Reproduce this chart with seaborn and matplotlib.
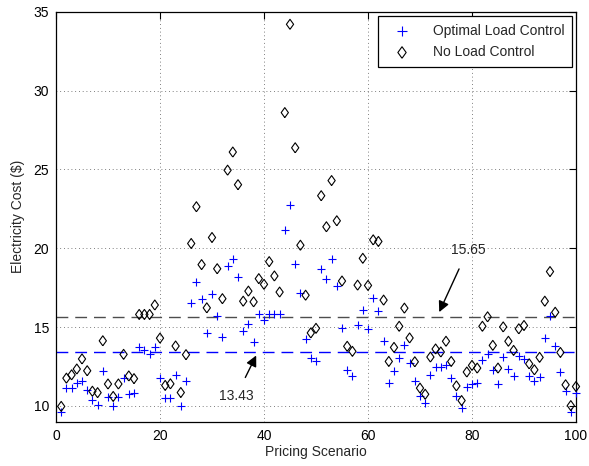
import numpy as np
import pandas as pd
import matplotlib
matplotlib.use("Agg")
import matplotlib.pyplot as plt
import seaborn as sns

scenario = list(range(1, 101))

no_control = [
    9.97, 11.76, 11.97, 12.34, 12.98, 12.23, 10.93, 10.84, 14.13, 11.39,
    10.60, 11.39, 13.27, 11.90, 11.73, 15.80, 15.80, 15.80, 16.40, 14.30,
    11.30, 11.40, 13.80, 10.85, 13.25, 20.30, 22.63, 18.96, 16.22, 20.68,
    18.70, 16.80, 24.95, 26.10, 24.03, 16.64, 17.28, 16.60, 18.07, 17.71,
    19.15, 18.24, 17.22, 28.60, 34.20, 26.37, 20.19, 17.02, 14.63, 14.92,
    23.33, 21.36, 24.29, 21.74, 17.92, 13.78, 13.46, 17.66, 19.36, 17.64,
    20.53, 20.43, 16.71, 12.82, 13.71, 15.05, 16.20, 14.31, 12.80, 11.13,
    10.74, 13.10, 13.61, 13.42, 14.10, 12.82, 11.27, 10.34, 12.15, 12.57,
    12.40, 15.05, 15.65, 13.84, 12.40, 15.01, 14.10, 13.52, 14.89, 15.10,
    12.67, 12.29, 13.08, 16.64, 18.52, 15.94, 13.39, 11.34, 10.02, 11.23,
]

optimal = [
    9.62, 11.15, 11.15, 11.45, 11.58, 11.04, 10.36, 10.04, 12.21, 10.58,
    10.01, 10.58, 11.76, 10.74, 10.80, 13.74, 13.52, 13.30, 13.74, 11.76,
    10.49, 10.49, 11.93, 10.00, 11.60, 16.54, 17.85, 16.80, 14.63, 17.11,
    15.73, 14.40, 18.87, 19.34, 18.17, 14.75, 15.22, 14.06, 15.86, 15.48,
    15.84, 15.84, 15.80, 21.15, 22.74, 18.98, 17.13, 14.27, 13.04, 12.87,
    18.66, 18.07, 19.34, 17.60, 14.95, 12.29, 11.87, 15.16, 16.07, 14.90,
    16.86, 16.00, 14.10, 11.48, 12.23, 13.04, 13.84, 12.70, 11.60, 10.60,
    10.21, 11.93, 12.44, 12.50, 12.61, 11.80, 10.64, 9.85, 11.17, 11.40,
    11.45, 12.93, 13.29, 12.29, 11.40, 13.10, 12.34, 11.91, 13.18, 12.97,
    11.87, 11.61, 11.83, 14.31, 15.69, 13.82, 12.15, 10.97, 9.64, 10.85,
]

mean_no_control = 15.65
mean_optimal = 13.43

series_names = ["Optimal Load Control", "No Load Control"]
x_ticks = [0, 20, 40, 60, 80, 100]
y_ticks = [10, 15, 20, 25, 30, 35]

sns.set_theme(style="white")
plt.rcParams["font.family"] = ["Liberation Sans", "DejaVu Sans"]
plt.rcParams["font.size"] = 10

fig = plt.figure(figsize=(5.89, 4.66), dpi=100)
ax = fig.add_axes([56 / 589, 1 - 421.7 / 466, (576 - 56) / 589, (421.7 - 11.7) / 466])

df_opt = pd.DataFrame({"x": scenario, "y": optimal})
df_no = pd.DataFrame({"x": scenario, "y": no_control})

diamond = [(0, -1), (0.72, 0), (0, 1), (-0.72, 0), (0, -1)]

sns.scatterplot(data=df_opt, x="x", y="y", marker="+", s=34, color="#0000ff",
                linewidth=0.8, ax=ax, label=series_names[0], clip_on=False, zorder=3)
sns.scatterplot(data=df_no, x="x", y="y", marker=diamond, s=52, facecolor="none",
                edgecolor="black", linewidth=0.8, ax=ax, label=series_names[1],
                clip_on=False, zorder=3)

ax.axhline(mean_no_control, color="#4d4d4d", lw=1.0, dashes=(8.5, 5), zorder=2)
ax.axhline(mean_optimal, color="#0000ff", lw=1.0, dashes=(8.5, 5), zorder=2)

ax.annotate(f"{mean_no_control:.2f}", xy=(73.7, 15.95), xytext=(79.2, 19.9),
            ha="center", va="center", fontsize=10,
            arrowprops=dict(arrowstyle="-|>", color="black", lw=1.0,
                            shrinkA=7, shrinkB=0, mutation_scale=16))
ax.annotate(f"{mean_optimal:.2f}", xy=(38.5, 13.2), xytext=(34.6, 10.6),
            ha="center", va="center", fontsize=10,
            arrowprops=dict(arrowstyle="-|>", color="black", lw=1.0,
                            shrinkA=7, shrinkB=0, mutation_scale=16))

ax.set_xlim(0, 100)
ax.set_ylim(9, 35)
ax.set_xticks(x_ticks)
ax.set_yticks(y_ticks)
ax.set_xlabel("Pricing Scenario", fontsize=10, labelpad=2)
ax.set_ylabel("Electricity Cost ($)", fontsize=10, labelpad=6)
ax.grid(True, linestyle=(0, (1, 3.5)), color="#555555", lw=0.6)
ax.tick_params(direction="in", length=5, width=0.8, top=True, right=True,
               labelsize=10, colors="black", pad=5)
for sp in ax.spines.values():
    sp.set_visible(True)
    sp.set_color("black")
    sp.set_linewidth(0.9)

leg = ax.legend(loc="upper right", frameon=True, fancybox=False, edgecolor="black",
                framealpha=1, fontsize=10, borderaxespad=0.3, handletextpad=1.0,
                borderpad=0.55, labelspacing=0.55, handlelength=2.4,
                markerscale=1.15)
leg.get_frame().set_linewidth(0.9)

fig.savefig("out.png", dpi=100)
